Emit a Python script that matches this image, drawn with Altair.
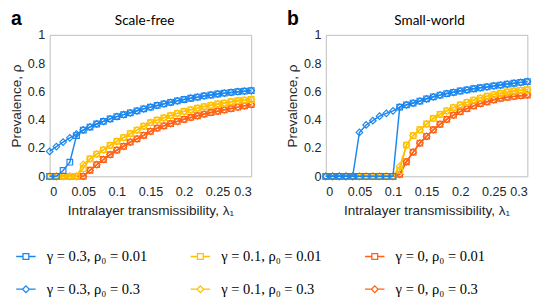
import altair as alt
import pandas as pd

lam = [0.00, 0.01, 0.02, 0.03, 0.04, 0.05, 0.06, 0.07, 0.08, 0.09, 0.10,
       0.11, 0.12, 0.13, 0.14, 0.15, 0.16, 0.17, 0.18, 0.19, 0.20,
       0.21, 0.22, 0.23, 0.24, 0.25, 0.26, 0.27, 0.28, 0.29, 0.30]

# Scale-free
sf_b_s = [0, 0, 0.041, 0.10, 0.288, 0.327, 0.348, 0.370, 0.388, 0.406, 0.422,
          0.436, 0.449, 0.463, 0.477, 0.489, 0.501, 0.512, 0.523, 0.533, 0.543,
          0.552, 0.560, 0.568, 0.575, 0.582, 0.588, 0.593, 0.598, 0.602, 0.606]
sf_b_d = [0.176, 0.210, 0.242, 0.272, 0.299, 0.329, 0.349, 0.370, 0.388, 0.406, 0.422,
          0.436, 0.449, 0.463, 0.477, 0.489, 0.501, 0.512, 0.523, 0.533, 0.543,
          0.552, 0.560, 0.568, 0.575, 0.582, 0.588, 0.593, 0.598, 0.602, 0.606]
sf_y_s = [0, 0, 0, 0, 0, 0.055, 0.123, 0.157, 0.187, 0.219, 0.247,
          0.274, 0.302, 0.327, 0.354, 0.379, 0.397, 0.413, 0.429, 0.445, 0.459,
          0.470, 0.482, 0.493, 0.502, 0.511, 0.518, 0.527, 0.534, 0.539, 0.543]
sf_y_d = [0, 0, 0, 0, 0, 0.085, 0.123, 0.157, 0.187, 0.219, 0.247,
          0.274, 0.302, 0.327, 0.354, 0.379, 0.397, 0.413, 0.429, 0.445, 0.459,
          0.470, 0.482, 0.493, 0.502, 0.511, 0.518, 0.527, 0.534, 0.539, 0.543]
sf_o_s = [0, 0, 0, 0, 0, 0, 0.043, 0.082, 0.119, 0.153, 0.185,
          0.212, 0.242, 0.265, 0.290, 0.318, 0.340, 0.357, 0.373, 0.388, 0.403,
          0.416, 0.428, 0.440, 0.451, 0.460, 0.470, 0.479, 0.489, 0.498, 0.507]
sf_o_d = [0, 0, 0, 0, 0, 0, 0.043, 0.082, 0.119, 0.153, 0.185,
          0.212, 0.242, 0.265, 0.290, 0.318, 0.340, 0.357, 0.373, 0.388, 0.403,
          0.416, 0.428, 0.440, 0.451, 0.460, 0.470, 0.479, 0.489, 0.498, 0.507]

# Small-world
sw_b_s = [0, 0, 0, 0, 0, 0, 0, 0, 0, 0, 0,
          0.489, 0.505, 0.518, 0.532, 0.548, 0.562, 0.574, 0.585, 0.594, 0.603,
          0.611, 0.619, 0.626, 0.632, 0.639, 0.645, 0.652, 0.658, 0.664, 0.670]
sw_b_d = [0, 0, 0, 0, 0, 0.310, 0.363, 0.393, 0.425, 0.445, 0.463,
          0.489, 0.505, 0.518, 0.532, 0.548, 0.562, 0.574, 0.585, 0.594, 0.603,
          0.611, 0.619, 0.626, 0.632, 0.639, 0.645, 0.652, 0.658, 0.664, 0.670]
sw_y_s = [0, 0, 0, 0, 0, 0, 0, 0, 0, 0, 0,
          0.040, 0.220, 0.288, 0.329, 0.370, 0.409, 0.438, 0.463, 0.486, 0.505,
          0.523, 0.539, 0.553, 0.566, 0.578, 0.587, 0.596, 0.603, 0.608, 0.612]
sw_y_d = [0, 0, 0, 0, 0, 0, 0, 0, 0, 0, 0,
          0.070, 0.220, 0.288, 0.329, 0.370, 0.409, 0.438, 0.463, 0.486, 0.505,
          0.523, 0.539, 0.553, 0.566, 0.578, 0.587, 0.596, 0.603, 0.608, 0.612]
sw_o_s = [0, 0, 0, 0, 0, 0, 0, 0, 0, 0, 0,
          0.014, 0.103, 0.171, 0.235, 0.283, 0.329, 0.368, 0.402, 0.432, 0.457,
          0.479, 0.498, 0.514, 0.527, 0.541, 0.551, 0.559, 0.565, 0.570, 0.575]
sw_o_d = [0, 0, 0, 0, 0, 0, 0, 0, 0, 0, 0,
          0.014, 0.103, 0.171, 0.235, 0.283, 0.329, 0.368, 0.402, 0.432, 0.457,
          0.479, 0.498, 0.514, 0.527, 0.541, 0.551, 0.559, 0.565, 0.570, 0.575]

# legend order (filled column by column: 3 columns x 2 rows)
series_labels = ["γ = 0.3, ρ₀ = 0.01", "γ = 0.3, ρ₀ = 0.3",
                 "γ = 0.1, ρ₀ = 0.01", "γ = 0.1, ρ₀ = 0.3",
                 "γ = 0, ρ₀ = 0.01", "γ = 0, ρ₀ = 0.3"]
series_colors = ["#1a87f0", "#1a87f0", "#ffc000", "#ffc000", "#ff6214", "#ff6214"]
groups = ["blue", "blue", "yellow", "yellow", "orange", "orange"]
markers = ["square", "diamond", "square", "diamond", "square", "diamond"]

SQ_PATH = "M-1.67,0H-0.5M0.5,0H1.67M-0.5,-0.5H0.5V0.5H-0.5Z"
DI_PATH = "M-1.67,0H-0.58M0.58,0H1.67M0,-0.58L0.58,0L0,0.58L-0.58,0Z"
legend_shapes = [SQ_PATH, DI_PATH, SQ_PATH, DI_PATH, SQ_PATH, DI_PATH]

panel_data = {
    "Scale-free": [sf_b_s, sf_b_d, sf_y_s, sf_y_d, sf_o_s, sf_o_d],
    "Small-world": [sw_b_s, sw_b_d, sw_y_s, sw_y_d, sw_o_s, sw_o_d],
}

rows = []
for panel, arrs in panel_data.items():
    for lab, grp, mk, vals in zip(series_labels, groups, markers, arrs):
        for x, v in zip(lam, vals):
            rows.append({"panel": panel, "series": lab, "group": grp,
                         "marker": mk, "lam": x, "rho": v})
df = pd.DataFrame(rows)
legend_df = pd.DataFrame({"series": series_labels})

FONT = "Liberation Sans"
color_scale = alt.Scale(domain=series_labels, range=series_colors)

x_enc = alt.X("lam:Q", scale=alt.Scale(domain=[0, 0.3], nice=False),
              axis=alt.Axis(values=[0, 0.05, 0.1, 0.15, 0.2, 0.25, 0.3], format="~g",
                            title="Intralayer transmissibility, λ₁"))
y_enc = alt.Y("rho:Q", scale=alt.Scale(domain=[0, 1], nice=False),
              axis=alt.Axis(values=[0, 0.2, 0.4, 0.6, 0.8, 1], format="~g",
                            title="Prevalence, ρ"))


def panel_chart(panel, letter, title_x, with_legend):
    base = alt.Chart(df).transform_filter(alt.datum.panel == panel)
    layers = []
    if with_legend:
        leg = alt.Chart(legend_df).mark_point(filled=False, opacity=0).encode(
            x=alt.value(0), y=alt.value(0),
            color=alt.Color("series:N", scale=color_scale,
                            legend=alt.Legend(
                                title=None, orient="none", legendX=-32, legendY=221,
                                columns=3, symbolSize=144, symbolStrokeWidth=1.3,
                                labelFont="Liberation Serif", labelFontSize=15,
                                labelColor="black", labelOffset=14, columnPadding=41,
                                rowPadding=18, labelLimit=300, symbolOpacity=1)),
            shape=alt.Shape("series:N", scale=alt.Scale(domain=series_labels,
                                                        range=legend_shapes)))
        layers.append(leg)
    for grp in ["orange", "yellow", "blue"]:
        g = base.transform_filter(alt.datum.group == grp)
        col = alt.Color("series:N", scale=color_scale, legend=None)
        layers.append(g.mark_line(strokeWidth=1.5).encode(
            x=x_enc, y=y_enc, color=col, detail="series:N"))
        layers.append(g.transform_filter(alt.datum.marker == "square").mark_point(
            shape="square", filled=False, size=34, strokeWidth=1.2, opacity=1).encode(
            x=x_enc, y=y_enc, color=col))
        layers.append(g.transform_filter(alt.datum.marker == "diamond").mark_point(
            shape="diamond", filled=False, size=46, strokeWidth=1.2, opacity=1).encode(
            x=x_enc, y=y_enc, color=col))
    head = alt.Chart(pd.DataFrame({"letter": [letter], "title": [panel]}))
    layers.append(head.mark_text(
        fontSize=20, fontWeight="bold", font=FONT, align="left", baseline="alphabetic",
        color="black").encode(x=alt.value(-40), y=alt.value(-10), text="letter:N"))
    layers.append(head.mark_text(
        fontSize=14, font="Lato", align="center", baseline="alphabetic",
        color="black").encode(x=alt.value(title_x), y=alt.value(-10), text="title:N"))
    return alt.layer(*layers).properties(width=208, height=146)


chart = alt.hconcat(
    panel_chart("Scale-free", "a", 98, True),
    panel_chart("Small-world", "b", 107, False),
    spacing=28,
).properties(
    padding={"left": 1, "top": -4, "right": 5, "bottom": 0}
).configure_view(
    stroke="#bdbdbd", strokeWidth=1
).configure_axis(
    domain=False, ticks=False, grid=False,
    labelFont=FONT, labelFontSize=13, labelColor="#262626",
    titleFont=FONT, titleFontSize=14, titleFontWeight="normal", titleColor="#262626",
).configure_axisX(labelPadding=10, titlePadding=5).configure_axisY(labelPadding=5, titlePadding=4)

chart.save("out.html", embed_options={"renderer": "svg", "actions": False})
